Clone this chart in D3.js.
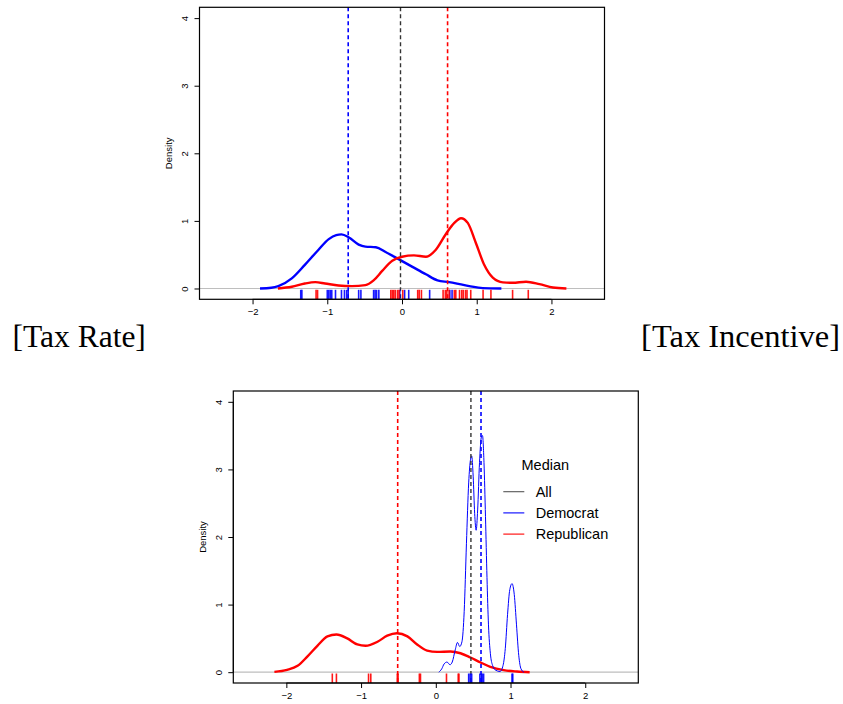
<!DOCTYPE html>
<html>
<head>
<meta charset="utf-8">
<script src="https://cdn.jsdelivr.net/npm/d3@7"></script>
<style>
  html, body { margin: 0; padding: 0; background: #fff; }
  svg { display: block; }
</style>
</head>
<body>
<svg id="chart" width="843" height="704"></svg>
<script>
// ---------------- DATA ----------------
const xTicks = [-2, -1, 0, 1, 2];
const yTicks = [0, 1, 2, 3, 4];
const legendTitle = "Median";
const legendLabels = ["All", "Democrat", "Republican"];
const panelLabels = ["[Tax Rate]", "[Tax Incentive]"];

// Panel 1 (Tax Rate) density curves [x, density]
const rateDem = [[-1.90,0],[-1.75,0.01],[-1.655,0.035],[-1.475,0.15],[-1.30,0.35],[-1.12,0.57],[-0.98,0.73],[-0.88,0.79],[-0.81,0.80],[-0.71,0.755],[-0.58,0.65],[-0.49,0.62],[-0.35,0.61],[-0.22,0.54],[-0.04,0.43],[0.14,0.32],[0.32,0.21],[0.475,0.12],[0.63,0.094],[0.77,0.064],[0.90,0.035],[1.08,0.005],[1.33,0]];
const rateRep = [[-1.66,0],[-1.475,0.025],[-1.30,0.074],[-1.16,0.094],[-1.03,0.074],[-0.85,0.044],[-0.67,0.035],[-0.49,0.05],[-0.38,0.12],[-0.265,0.26],[-0.13,0.41],[0.00,0.47],[0.16,0.49],[0.32,0.47],[0.45,0.57],[0.59,0.81],[0.70,0.97],[0.79,1.04],[0.88,0.97],[0.99,0.67],[1.10,0.35],[1.215,0.16],[1.35,0.09],[1.48,0.084],[1.66,0.099],[1.84,0.064],[2.02,0.015],[2.20,0]];
const rateMedians = [-0.02, -0.72, 0.61]; // All, Democrat, Republican
const rateRugDem = [-1.355,-1.34,-1.0,-0.98,-0.96,-0.94,-0.89,-0.81,-0.77,-0.74,-0.72,-0.58,-0.55,-0.38,-0.36,-0.34,-0.31,-0.03,0.035,0.09,0.37,0.64,0.67];
const rateRugRep = [-1.15,-1.13,-0.15,-0.13,-0.11,-0.09,-0.06,-0.04,0.01,0.21,0.23,0.26,0.55,0.58,0.60,0.63,0.70,0.72,0.77,0.80,0.82,0.85,0.87,0.92,1.085,1.19,1.48,1.69];

// Panel 2 (Tax Incentive) density curves [x, density]
const incRep = [[-2.16,0.005],[-1.99,0.035],[-1.85,0.094],[-1.72,0.23],[-1.585,0.39],[-1.45,0.53],[-1.33,0.557],[-1.185,0.50],[-1.05,0.41],[-0.94,0.39],[-0.78,0.45],[-0.65,0.54],[-0.52,0.577],[-0.38,0.53],[-0.25,0.41],[-0.116,0.32],[0.018,0.30],[0.196,0.306],[0.33,0.28],[0.463,0.217],[0.60,0.143],[0.73,0.079],[0.91,0.03],[1.087,0.01],[1.256,0]];
const incDem = [[0.04,0],[0.08,0.05],[0.11,0.12],[0.15,0.15],[0.19,0.11],[0.22,0.15],[0.26,0.33],[0.29,0.44],[0.32,0.38],[0.35,0.45],[0.38,0.9],[0.41,1.9],[0.44,2.8],[0.465,3.15],[0.48,3.2],[0.50,2.9],[0.52,2.35],[0.54,2.1],[0.56,2.4],[0.585,3.1],[0.61,3.48],[0.625,3.5],[0.645,3.1],[0.665,2.3],[0.685,1.4],[0.705,0.7],[0.73,0.28],[0.76,0.1],[0.80,0.03],[0.86,0.01],[0.90,0.1],[0.93,0.35],[0.96,0.85],[0.99,1.22],[1.02,1.31],[1.05,1.15],[1.08,0.7],[1.11,0.25],[1.14,0.05],[1.18,0]];
const incMedians = [0.47, 0.605, -0.51]; // All, Democrat, Republican
const incRugDem = [0.44,0.46,0.48,0.59,0.61,0.62,0.64,1.02,1.03];
const incRugRep = [-1.385,-1.33,-0.90,-0.87,-0.515,-0.505,-0.22,-0.205,0.143,0.30,0.31];

// ---------------- STYLE / LAYOUT ----------------
const W = 405, H = 292;
const colAll = "#333333", colDem = "#0000ff", colRep = "#ff0000";
const font = "'Liberation Sans', Arial, Helvetica, sans-serif";
const svg = d3.select("#chart");

const x = d3.scaleLinear().domain([-2.71, 2.71]).range([0, W]);
const y = d3.scaleLinear().domain([-0.16, 4.16]).range([H, 0]);

function panel(ox, oy, cfg) {
  const g = svg.append("g").attr("transform", `translate(${ox},${oy})`);
  const clipId = "clip" + Math.round(ox);
  g.append("clipPath").attr("id", clipId).append("rect").attr("width", W).attr("height", H);
  const pg = g.append("g").attr("clip-path", `url(#${clipId})`);

  // zero line
  pg.append("line").attr("x1", 0).attr("x2", W).attr("y1", y(0)).attr("y2", y(0))
    .attr("stroke", "#bebebe").attr("stroke-width", 1.2);

  const line = d3.line().x(d => x(d[0])).y(d => y(d[1])).curve(d3.curveMonotoneX);
  cfg.curves.forEach(c => {
    pg.append("path").datum(c.data).attr("d", line)
      .attr("fill", "none").attr("stroke", c.color).attr("stroke-width", c.width)
      .attr("stroke-linejoin", "round");
  });

  // medians
  const medCols = [colAll, colDem, colRep];
  cfg.medians.forEach((m, i) => {
    pg.append("line").attr("x1", x(m)).attr("x2", x(m)).attr("y1", 0).attr("y2", H)
      .attr("stroke", medCols[i]).attr("stroke-width", i === 0 ? 1.4 : 1.6)
      .attr("stroke-dasharray", "4,3");
  });

  // rugs
  const rugLen = 9.5;
  [[cfg.rugDem, colDem], [cfg.rugRep, colRep]].forEach(([arr, col]) => {
    pg.selectAll(null).data(arr).enter().append("line")
      .attr("x1", d => x(d)).attr("x2", d => x(d))
      .attr("y1", H - rugLen).attr("y2", H)
      .attr("stroke", col).attr("stroke-width", 1.6).attr("opacity", 0.9);
  });

  // box
  g.append("rect").attr("width", W).attr("height", H)
    .attr("fill", "none").attr("stroke", "#000").attr("stroke-width", 1.2);

  // x axis (R style)
  const xa = g.append("g").attr("transform", `translate(0,${H})`)
    .call(d3.axisBottom(x).tickValues(xTicks).tickSize(5).tickSizeOuter(0)
      .tickFormat(d => d < 0 ? "\u2212" + Math.abs(d) : String(d)));
  xa.select(".domain").attr("d", `M${x(xTicks[0])},0H${x(xTicks[xTicks.length-1])}`);
  xa.selectAll("text").attr("font-family", font).attr("font-size", 9.5).attr("dy", "0.75em").attr("y", 9);
  xa.selectAll("line, path").attr("stroke", "#000");

  // y axis
  const ya = g.append("g")
    .call(d3.axisLeft(y).tickValues(yTicks).tickSize(5).tickSizeOuter(0).tickFormat(d3.format("d")));
  ya.select(".domain").attr("d", `M0,${y(yTicks[0])}V${y(yTicks[yTicks.length-1])}`);
  ya.selectAll("line, path").attr("stroke", "#000");
  ya.selectAll("text").attr("font-family", font).attr("font-size", 9.5)
    .attr("x", null).attr("dy", null).attr("text-anchor", "middle")
    .attr("transform", "translate(-14.5,0) rotate(-90)").attr("y", 0).attr("dy", "0.35em");

  g.append("text").attr("transform", `translate(-31,${H/2}) rotate(-90)`)
    .attr("text-anchor", "middle").attr("dy", "0.35em")
    .attr("font-family", font).attr("font-size", 9.5).text("Density");
  return g;
}

panel(199.5, 7.3, {
  curves: [{data: rateDem, color: colDem, width: 2.4}, {data: rateRep, color: colRep, width: 2.4}],
  medians: rateMedians, rugDem: rateRugDem, rugRep: rateRugRep
});

panel(233.3, 391, {
  curves: [{data: incRep, color: colRep, width: 2.4}, {data: incDem, color: colDem, width: 1}],
  medians: incMedians, rugDem: incRugDem, rugRep: incRugRep
});

// legend in panel 2
const lg = svg.append("g").attr("transform", "translate(503.3,465)");
lg.append("text").attr("x", 42).attr("y", 0).attr("dy", "0.35em").attr("text-anchor", "middle")
  .attr("font-family", font).attr("font-size", 14.5).text(legendTitle);
const legCols = ["#555555", colDem, colRep];
legendLabels.forEach((lab, i) => {
  const yy = 26.7 + i * 21.2;
  lg.append("line").attr("x1", 0).attr("x2", 21).attr("y1", yy).attr("y2", yy)
    .attr("stroke", legCols[i]).attr("stroke-width", 1.1);
  lg.append("text").attr("x", 32.4).attr("y", yy).attr("dy", "0.35em")
    .attr("font-family", font).attr("font-size", 14.5).text(lab);
});

// panel labels
svg.append("text").attr("x", 12.5).attr("y", 347).attr("font-family", "'Liberation Serif', 'DejaVu Serif', serif")
  .attr("font-size", 31.5).text(panelLabels[0]);
svg.append("text").attr("x", 840).attr("y", 347).attr("text-anchor", "end")
  .attr("font-family", "'Liberation Serif', 'DejaVu Serif', serif")
  .attr("font-size", 32.5).text(panelLabels[1]);
</script>
</body>
</html>
